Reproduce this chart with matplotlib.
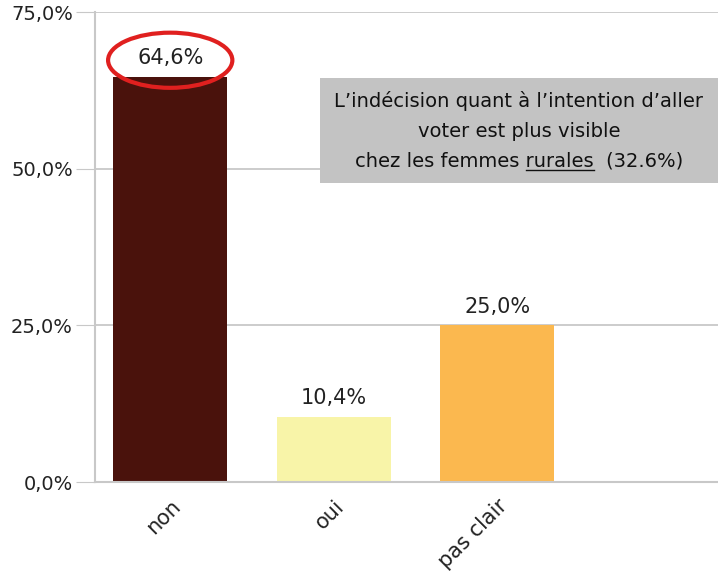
import matplotlib
matplotlib.use("Agg")
import matplotlib.pyplot as plt
from matplotlib.patches import Ellipse, Rectangle

categories = ["non", "oui", "pas clair"]
values = [64.6, 10.4, 25.0]
value_labels = ["64,6%", "10,4%", "25,0%"]
bar_colors = ["#4a120c", "#f8f4a8", "#fbb84f"]
yticks = [0, 25, 50, 75]
ytick_labels = ["0,0%", "25,0%", "50,0%", "75,0%"]

plt.rcParams['font.family'] = ['DejaVu Sans']
fig = plt.figure(figsize=(7.18, 5.71), dpi=100)
ax = fig.add_axes([95 / 718, 89 / 571, 623 / 718, 470 / 571])

x = range(len(categories))
ax.bar(x, values, width=0.70, color=bar_colors, zorder=2)
for i, (v, lbl) in enumerate(zip(values, value_labels)):
    ax.text(i, v + 3.0, lbl, ha="center", va="center", fontsize=15, color="#222222")

# red circle round the first value
ax.add_patch(Ellipse((0, values[0] + 2.7), 0.76, 8.8, fill=False,
                     edgecolor="#e0201f", lw=3, zorder=5, clip_on=False))

ax.set_xlim(-0.46, 3.35)
ax.set_ylim(0, 75)
ax.set_yticks(yticks)
ax.set_yticklabels(ytick_labels, fontsize=14, color="#222222")
ax.set_xticks(list(x))
ax.set_xticklabels(categories, rotation=45, ha="right", rotation_mode="anchor",
                   fontsize=15, color="#222222")
ax.tick_params(axis="y", length=14, color="#c8c8c8", pad=2)
ax.tick_params(axis="x", length=0, pad=10)
for yv in yticks[1:]:
    ax.axhline(yv, color="#c8c8c8", lw=1.3, zorder=1)
for s in ["top", "right"]:
    ax.spines[s].set_visible(False)
for s in ["left", "bottom"]:
    ax.spines[s].set_color("#c8c8c8")
    ax.spines[s].set_linewidth(1.5)

# grey note box
fig.patches.append(Rectangle((320 / 718, 1 - 183 / 571), 398 / 718, 105 / 571,
                             transform=fig.transFigure, facecolor="#c3c3c3",
                             edgecolor="none", zorder=3))
cx = 519 / 718
fig.text(cx, 1 - 101 / 571, "L\u2019indécision quant à l\u2019intention d\u2019aller",
         ha="center", va="center", fontsize=14, color="#111111", zorder=4)
fig.text(cx, 1 - 131 / 571, "voter est plus visible",
         ha="center", va="center", fontsize=14, color="#111111", zorder=4)
line3 = fig.text(cx, 1 - 161 / 571, "chez les femmes rurales  (32.6%)",
                 ha="center", va="center", fontsize=14, color="#111111", zorder=4)

# underline "rurales"
r = fig.canvas.get_renderer()
full = line3.get_window_extent(r)
pre = fig.text(0, 0, "chez les femmes ", fontsize=14, alpha=0)
word = fig.text(0, 0, "rurales", fontsize=14, alpha=0)
w_pre = pre.get_window_extent(r).width
w_word = word.get_window_extent(r).width
x0 = full.x0 + w_pre
y_line = full.y0 + 1
fig.add_artist(plt.Line2D([x0 / fig.bbox.width, (x0 + w_word) / fig.bbox.width],
                          [y_line / fig.bbox.height] * 2, transform=fig.transFigure,
                          color="#111111", lw=1, zorder=4))

fig.savefig("out.png", dpi=100)
